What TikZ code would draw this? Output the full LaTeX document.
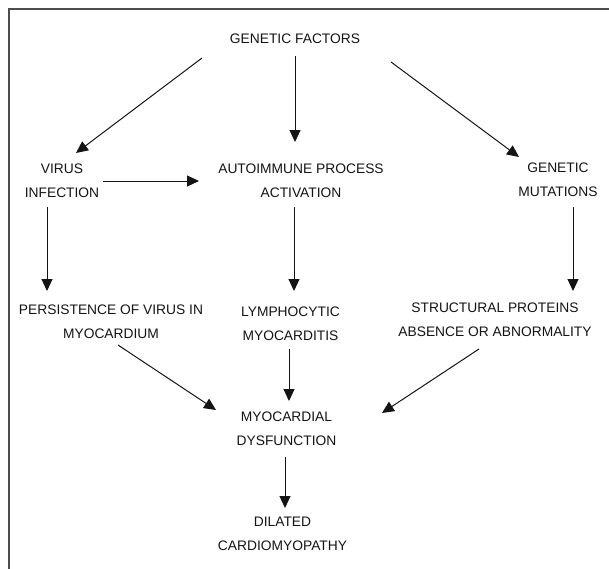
\documentclass[tikz,border=0pt]{standalone}
\usepackage{fontspec}
\setmainfont{Liberation Sans}
\usetikzlibrary{arrows.meta,calc}
\begin{document}
\begin{tikzpicture}[x=1pt,y=-1pt,
  lbl/.style={align=center,inner sep=0pt,font=\fontsize{13.8}{24}\selectfont,text=black!92},
  arr/.style={-{Triangle[length=12pt,width=11pt]},line width=1pt,draw=black!92}]
\useasboundingbox (0,0) rectangle (609,568);
\draw[line width=1.8pt,draw=black!70] (612,9) -- (9,9) -- (9,572);
\node[lbl] (gf) at (295,39) {GENETIC FACTORS};
\node[lbl] (vi) at (62,181) {VIRUS\\INFECTION};
\node[lbl] (ap) at (301,180.5) {AUTOIMMUNE PROCESS\\ACTIVATION};
\node[lbl] (gm) at (558,179.5) {GENETIC\\MUTATIONS};
\node[lbl] (pv) at (111,321.5) {PERSISTENCE OF VIRUS IN\\MYOCARDIUM};
\node[lbl] (lm) at (290.5,323.5) {LYMPHOCYTIC\\MYOCARDITIS};
\node[lbl] (sp) at (495,319.5) {STRUCTURAL PROTEINS\\ABSENCE OR ABNORMALITY};
\node[lbl] (md) at (286.5,429) {MYOCARDIAL\\DYSFUNCTION};
\node[lbl] (dc) at (282.5,534) {DILATED\\CARDIOMYOPATHY};
\draw[arr] ($(gf)+(-93,19)$) -- ($(vi)+(14,-28)$);
\draw[arr] ($(gf)+(0,17)$) -- ($(ap)+(-6,-38.5)$);
\draw[arr] ($(gf)+(96,23)$) -- ($(gm)+(-39,-22.5)$);
\draw[arr] ($(vi)+(41,0)$) -- ($(ap)+(-102,0.5)$);
\draw[arr] ($(vi)+(-15,26)$) -- ($(pv)+(-64,-30.5)$);
\draw[arr] ($(ap)+(-7,26.5)$) -- ($(lm)+(3.5,-32.5)$);
\draw[arr] ($(gm)+(15,27.5)$) -- ($(sp)+(78,-28.5)$);
\draw[arr] ($(pv)+(7,23.5)$) -- ($(md)+(-70.5,-19)$);
\draw[arr] ($(lm)+(-1.5,25.5)$) -- ($(md)+(2.5,-28)$);
\draw[arr] ($(sp)+(-16,29.5)$) -- ($(md)+(95.5,-16)$);
\draw[arr] ($(md)+(-1.5,28)$) -- ($(dc)+(2.5,-26)$);
\end{tikzpicture}
\end{document}
